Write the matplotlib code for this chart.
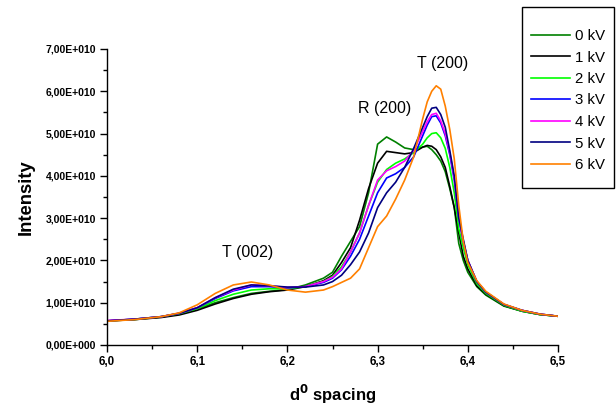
import matplotlib
matplotlib.use("Agg")
import matplotlib.pyplot as plt
from matplotlib.ticker import MultipleLocator, FuncFormatter
from matplotlib.patches import Rectangle

plt.rcParams['font.family'] = ['Liberation Sans', 'DejaVu Sans']

d_spacing = [6.00, 6.03, 6.06, 6.08, 6.10, 6.12, 6.14, 6.16, 6.18, 6.20,
             6.22, 6.24, 6.25, 6.26, 6.27, 6.28, 6.29, 6.30, 6.31, 6.32,
             6.33, 6.34, 6.35, 6.355, 6.36, 6.365, 6.37, 6.375, 6.38, 6.385,
             6.39, 6.395, 6.40, 6.41, 6.42, 6.44, 6.46, 6.48, 6.50]

# intensities in units of 1e10
kv0 = [0.57, 0.60, 0.66, 0.73, 0.85, 1.00, 1.12, 1.22, 1.27, 1.31,
       1.42, 1.58, 1.72, 2.10, 2.45, 2.80, 3.60, 4.75, 4.92, 4.80,
       4.66, 4.62, 4.68, 4.70, 4.62, 4.50, 4.35, 4.10, 3.70, 3.25,
       2.40, 2.00, 1.72, 1.38, 1.18, 0.92, 0.80, 0.72, 0.68]
kv1 = [0.57, 0.60, 0.65, 0.71, 0.82, 0.97, 1.10, 1.20, 1.26, 1.30,
       1.38, 1.52, 1.65, 1.95, 2.30, 2.95, 3.70, 4.30, 4.58, 4.55,
       4.52, 4.55, 4.68, 4.72, 4.70, 4.62, 4.45, 4.20, 3.75, 3.25,
       2.65, 2.10, 1.80, 1.40, 1.20, 0.93, 0.80, 0.72, 0.68]
kv2 = [0.57, 0.61, 0.67, 0.74, 0.86, 1.05, 1.20, 1.30, 1.33, 1.33,
       1.38, 1.50, 1.62, 1.85, 2.20, 2.65, 3.30, 3.85, 4.15, 4.30,
       4.40, 4.55, 4.75, 4.90, 5.00, 5.02, 4.90, 4.65, 4.20, 3.60,
       2.75, 2.30, 1.90, 1.45, 1.22, 0.94, 0.80, 0.72, 0.68]
kv3 = [0.57, 0.61, 0.67, 0.75, 0.88, 1.10, 1.28, 1.38, 1.38, 1.35,
       1.38, 1.48, 1.58, 1.78, 2.10, 2.50, 3.05, 3.60, 3.95, 4.05,
       4.20, 4.45, 4.95, 5.20, 5.40, 5.42, 5.25, 4.95, 4.50, 3.90,
       3.00, 2.45, 2.00, 1.50, 1.25, 0.96, 0.82, 0.73, 0.68]
kv4 = [0.58, 0.61, 0.67, 0.75, 0.88, 1.12, 1.30, 1.42, 1.40, 1.36,
       1.38, 1.50, 1.60, 1.80, 2.20, 2.65, 3.30, 3.90, 4.12, 4.22,
       4.35, 4.60, 5.05, 5.28, 5.45, 5.48, 5.30, 5.00, 4.55, 3.95,
       3.00, 2.45, 2.00, 1.50, 1.25, 0.96, 0.82, 0.73, 0.68]
kv5 = [0.57, 0.61, 0.67, 0.75, 0.88, 1.12, 1.32, 1.42, 1.40, 1.37,
       1.37, 1.42, 1.50, 1.65, 1.90, 2.20, 2.65, 3.25, 3.60, 3.85,
       4.20, 4.65, 5.15, 5.40, 5.60, 5.62, 5.45, 5.15, 4.60, 4.00,
       3.00, 2.50, 2.00, 1.50, 1.25, 0.96, 0.82, 0.73, 0.68]
kv6 = [0.56, 0.60, 0.67, 0.76, 0.95, 1.22, 1.42, 1.49, 1.42, 1.30,
       1.25, 1.30, 1.38, 1.48, 1.58, 1.80, 2.30, 2.80, 3.05, 3.45,
       3.90, 4.45, 5.35, 5.75, 6.00, 6.13, 6.05, 5.65, 5.10, 4.40,
       3.30, 2.45, 1.95, 1.52, 1.27, 0.97, 0.82, 0.73, 0.68]

series = [kv0, kv1, kv2, kv3, kv4, kv5, kv6]
labels = ["0 kV", "1 kV", "2 kV", "3 kV", "4 kV", "5 kV", "6 kV"]
colors = ["#008000", "#000000", "#00ff00", "#0000ff", "#ff00ff", "#000080", "#ff8000"]

annotations = ["T (200)", "R (200)", "T (002)"]
ann_x = [6.3725, 6.308, 6.156]
ann_y = [6.65, 5.59, 2.19]

W, H = 616, 407
fig = plt.figure(figsize=(W / 100, H / 100), dpi=100)
ax = fig.add_axes([107 / W, 1 - 345 / H, (558 - 107) / W, (345 - 49) / H])

handles = []
for s, lab, c in zip(series, labels, colors):
    h, = ax.plot(d_spacing, [v * 1e10 for v in s], color=c, lw=1.2, label=lab)
    handles.append(h)

for t, x, y in zip(annotations, ann_x, ann_y):
    ax.text(x, y * 1e10, t, ha="center", va="center", fontsize=11.5)

ax.set_xlim(6.0, 6.5)
ax.set_ylim(0, 7e10)
ax.xaxis.set_major_locator(MultipleLocator(0.1))
ax.xaxis.set_minor_locator(MultipleLocator(0.05))
ax.yaxis.set_major_locator(MultipleLocator(1e10))
ax.yaxis.set_minor_locator(MultipleLocator(0.5e10))
ax.xaxis.set_major_formatter(FuncFormatter(lambda v, p: f"{v:.1f}".replace(".", ",")))

def yfmt(v, p):
    m = v / 1e10
    if abs(m) < 1e-9:
        return "0,00E+000"
    return f"{m:.2f}".replace(".", ",") + "E+010"

ax.yaxis.set_major_formatter(FuncFormatter(yfmt))
for sp in ["top", "right"]:
    ax.spines[sp].set_visible(False)
for sp in ["left", "bottom"]:
    ax.spines[sp].set_linewidth(1.0)
ax.tick_params(which="major", direction="out", length=5, width=1, pad=3)
ax.tick_params(axis="y", which="major", labelsize=7.5)
ax.tick_params(axis="x", which="major", labelsize=8.3)
ax.tick_params(which="minor", direction="out", length=3, width=1)
for lbl in ax.get_xticklabels() + ax.get_yticklabels():
    lbl.set_fontweight("bold")

ax.set_xlabel(r"d$^{\mathbf{0}}$ spacing", fontsize=12, fontweight="bold", labelpad=11)
ax.set_ylabel("Intensity", fontsize=13.3, fontweight="bold", labelpad=8)

# legend frame
fig.patches.append(Rectangle((522 / W, 1 - 188 / H), 92 / W, 181 / H,
                             transform=fig.transFigure, fill=False,
                             edgecolor="black", linewidth=1.0))
leg = fig.legend(handles=handles, labels=labels, loc="upper left",
                 bbox_to_anchor=(531 / W, 1 - 29 / H),
                 fontsize=10.8, frameon=False,
                 borderpad=0, labelspacing=0.5, handlelength=2.6,
                 handletextpad=0.33, borderaxespad=0)

fig.savefig("out.png", dpi=100)
